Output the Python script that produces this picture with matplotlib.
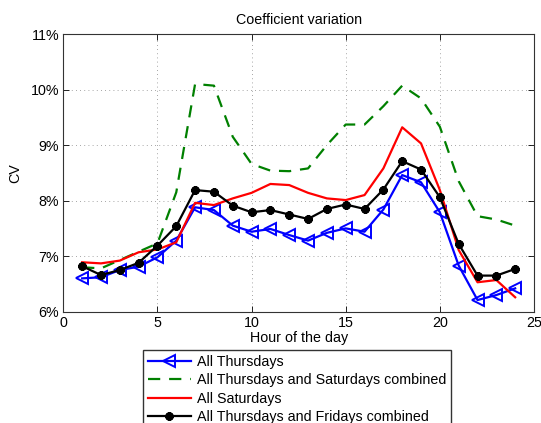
import matplotlib
matplotlib.use("Agg")
import matplotlib.pyplot as plt
from matplotlib.ticker import FuncFormatter

plt.rcParams['font.family'] = ['Liberation Sans', 'DejaVu Sans']

hours = list(range(1, 25))
thursdays = [6.60, 6.62, 6.75, 6.81, 6.98, 7.28, 7.88, 7.83, 7.55, 7.44, 7.49, 7.38,
             7.28, 7.42, 7.50, 7.44, 7.84, 8.46, 8.33, 7.79, 6.83, 6.21, 6.30, 6.42]
thu_sat = [6.80, 6.78, 6.93, 7.08, 7.23, 8.15, 10.10, 10.07, 9.15, 8.66, 8.54, 8.53,
           8.58, 9.00, 9.37, 9.37, 9.70, 10.07, 9.84, 9.33, 8.35, 7.72, 7.66, 7.55]
saturdays = [6.89, 6.87, 6.92, 7.07, 7.12, 7.25, 7.96, 7.92, 8.04, 8.14, 8.30, 8.28,
             8.14, 8.04, 8.01, 8.10, 8.58, 9.32, 9.03, 8.19, 7.11, 6.53, 6.57, 6.26]
thu_fri = [6.82, 6.66, 6.75, 6.88, 7.19, 7.54, 8.19, 8.16, 7.91, 7.79, 7.83, 7.75,
           7.67, 7.85, 7.93, 7.85, 8.20, 8.71, 8.56, 8.06, 7.22, 6.65, 6.65, 6.77]
labels = ["All Thursdays", "All Thursdays and Saturdays combined",
          "All Saturdays", "All Thursdays and Fridays combined"]

fig = plt.figure(figsize=(5.41, 4.23), dpi=100)
ax = fig.add_axes([63.3/541, 1-311.7/423, (534-63.3)/541, (311.7-34)/423])

l1, = ax.plot(hours, thursdays, color='#0000ff', lw=1.6, marker='<', ms=8,
              mfc='none', mew=1.4, label=labels[0])
l2, = ax.plot(hours, thu_sat, color='#008000', lw=1.6, ls=(0, (5.5, 4)), label=labels[1])
l3, = ax.plot(hours, saturdays, color='#ff0000', lw=1.6, label=labels[2])
l4, = ax.plot(hours, thu_fri, color='black', lw=1.6, marker=(8, 2, 0), ms=6, mew=2.0,
              label=labels[3])
ax.plot(hours, thu_fri, ls='none', color='black', marker='o', ms=3.6)

ax.set_xlim(0, 25)
ax.set_ylim(6, 11)
ax.set_xticks([0, 5, 10, 15, 20, 25])
ax.set_yticks([6, 7, 8, 9, 10, 11])
ax.yaxis.set_major_formatter(FuncFormatter(lambda v, p: f"{int(round(v))}%"))
ax.tick_params(direction='in', top=True, right=True, labelsize=10.3, length=4,
               width=0.6, pad=3)
ax.grid(True, ls=(0, (1, 4)), color='#888888', lw=0.6)
for s in ax.spines.values():
    s.set_linewidth(0.8)
    s.set_color('#333333')

ax.set_title("Coefficient variation", fontsize=10.3, pad=7)
ax.set_xlabel("Hour of the day", fontsize=10.3, labelpad=1)
ax.set_ylabel("CV", fontsize=10.3, labelpad=6)

fig.legend(handles=[l1, l2, l3, l4], loc='upper left',
           bbox_to_anchor=(143/541, 1-350/423), fontsize=10.3, numpoints=1,
           handlelength=3.0, handletextpad=0.4, borderpad=0.35, labelspacing=0.3,
           borderaxespad=0,
           frameon=True, fancybox=False, edgecolor='#333333', framealpha=1)

fig.savefig("out.png", dpi=100)
